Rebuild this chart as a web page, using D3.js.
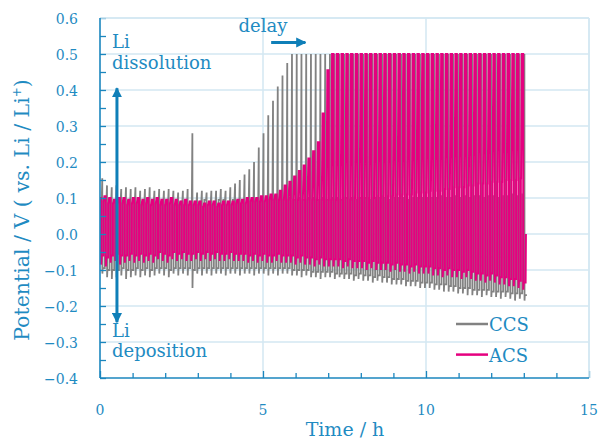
<!DOCTYPE html>
<html>
<head>
<meta charset="utf-8">
<script src="https://cdn.jsdelivr.net/npm/d3@7"></script>
<style>
  html, body { margin: 0; padding: 0; background: #fff; }
  svg { display: block; }
  text { font-family: "DejaVu Serif", serif; fill: #1f8bc2; }
</style>
</head>
<body>
<svg id="chart" width="601" height="442"></svg>
<script>
// Galvanostatic Li deposition / dissolution cycling, one entry per cycle.
const cycleHours = 0.1455;
const acsStartHours = -0.04;

// CCS per cycle, V: dissolution plateau, dissolution peak, deposition peak, deposition plateau
const ccsPlateauUp = [
  0.09, 0.095, 0.09, 0.09, 0.095, 0.09, 0.09, 0.095, 0.09, 0.09,
  0.09, 0.095, 0.09, 0.09, 0.09, 0.095, 0.09, 0.09, 0.09, 0.09,
  0.09, 0.09, 0.095, 0.09, 0.09, 0.095, 0.095, 0.09, 0.095, 0.09,
  0.095, 0.095, 0.09, 0.095, 0.095, 0.1, 0.095, 0.1, 0.1, 0.1,
  0.1, 0.095, 0.1, 0.095, 0.1, 0.1, 0.095, 0.1, 0.095, 0.1,
  0.1, 0.095, 0.1, 0.1, 0.095, 0.1, 0.1, 0.095, 0.1, 0.1,
  0.1, 0.095, 0.1, 0.1, 0.1, 0.095, 0.1, 0.1, 0.1, 0.1,
  0.1, 0.1, 0.105, 0.1, 0.1, 0.105, 0.1, 0.105, 0.1, 0.105,
  0.105, 0.1, 0.105, 0.105, 0.1, 0.105, 0.105, 0.11, 0.105, 0.11
];
const ccsUpper = [
  0.155, 0.135, 0.13, 0.135, 0.125, 0.13, 0.125, 0.13, 0.12, 0.125,
  0.13, 0.12, 0.125, 0.12, 0.125, 0.12, 0.115, 0.12, 0.125, 0.28,
  0.115, 0.12, 0.115, 0.12, 0.12, 0.125, 0.12, 0.13, 0.14, 0.15,
  0.165, 0.18, 0.2, 0.24, 0.28, 0.33, 0.37, 0.41, 0.44, 0.475,
  0.5, 0.5, 0.5, 0.5, 0.5, 0.5, 0.5, 0.5, 0.5, 0.5,
  0.5, 0.5, 0.5, 0.5, 0.5, 0.5, 0.5, 0.5, 0.5, 0.5,
  0.5, 0.5, 0.5, 0.5, 0.5, 0.5, 0.5, 0.5, 0.5, 0.5,
  0.5, 0.5, 0.5, 0.5, 0.5, 0.5, 0.5, 0.5, 0.5, 0.5,
  0.5, 0.5, 0.5, 0.5, 0.5, 0.5, 0.5, 0.5, 0.5, 0.5
];
const ccsLower = [
  -0.11, -0.12, -0.125, -0.12, -0.115, -0.125, -0.12, -0.115, -0.12, -0.115,
  -0.12, -0.115, -0.11, -0.115, -0.12, -0.11, -0.115, -0.11, -0.115, -0.15,
  -0.11, -0.115, -0.11, -0.115, -0.11, -0.11, -0.115, -0.11, -0.11, -0.115,
  -0.11, -0.11, -0.115, -0.11, -0.11, -0.115, -0.11, -0.115, -0.11, -0.11,
  -0.115, -0.115, -0.12, -0.115, -0.12, -0.12, -0.125, -0.12, -0.12, -0.125,
  -0.12, -0.125, -0.125, -0.13, -0.125, -0.13, -0.13, -0.135, -0.13, -0.135,
  -0.135, -0.14, -0.14, -0.14, -0.145, -0.145, -0.145, -0.15, -0.15, -0.15,
  -0.155, -0.155, -0.16, -0.16, -0.16, -0.165, -0.165, -0.17, -0.17, -0.17,
  -0.175, -0.17, -0.175, -0.175, -0.18, -0.175, -0.18, -0.185, -0.18, -0.185
];
const ccsPlateauDown = [
  -0.095, -0.1, -0.1, -0.1, -0.095, -0.1, -0.1, -0.095, -0.1, -0.095,
  -0.1, -0.095, -0.095, -0.095, -0.1, -0.095, -0.095, -0.095, -0.095, -0.1,
  -0.095, -0.095, -0.095, -0.095, -0.095, -0.095, -0.095, -0.095, -0.095, -0.095,
  -0.095, -0.095, -0.095, -0.095, -0.095, -0.095, -0.095, -0.095, -0.095, -0.095,
  -0.1, -0.1, -0.1, -0.1, -0.105, -0.105, -0.105, -0.105, -0.105, -0.11,
  -0.11, -0.11, -0.11, -0.115, -0.11, -0.115, -0.115, -0.12, -0.115, -0.12,
  -0.12, -0.125, -0.125, -0.125, -0.13, -0.13, -0.13, -0.135, -0.135, -0.135,
  -0.14, -0.14, -0.14, -0.145, -0.145, -0.15, -0.15, -0.15, -0.155, -0.155,
  -0.155, -0.155, -0.16, -0.16, -0.16, -0.16, -0.165, -0.165, -0.165, -0.17
];

// ACS per cycle, V: dissolution plateau, dissolution peak, deposition peak, deposition plateau
const acsPlateauUp = [
  0.085, 0.09, 0.085, 0.085, 0.085, 0.085, 0.08, 0.085, 0.085, 0.08,
  0.085, 0.08, 0.085, 0.08, 0.08, 0.085, 0.08, 0.08, 0.08, 0.08,
  0.08, 0.08, 0.075, 0.08, 0.08, 0.075, 0.08, 0.08, 0.08, 0.085,
  0.085, 0.085, 0.09, 0.09, 0.09, 0.09, 0.095, 0.095, 0.095, 0.095,
  0.095, 0.095, 0.095, 0.095, 0.095, 0.095, 0.095, 0.095, 0.095, 0.095,
  0.095, 0.095, 0.1, 0.095, 0.1, 0.1, 0.1, 0.1, 0.1, 0.105,
  0.105, 0.105, 0.105, 0.11, 0.11, 0.11, 0.11, 0.115, 0.115, 0.115,
  0.12, 0.12, 0.12, 0.125, 0.125, 0.13, 0.13, 0.13, 0.135, 0.135,
  0.14, 0.14, 0.14, 0.145, 0.145, 0.145, 0.15, 0.15, 0.15, 0.155
];
const acsUpper = [
  0.1, 0.105, 0.1, 0.095, 0.1, 0.1, 0.095, 0.1, 0.1, 0.095,
  0.1, 0.095, 0.1, 0.095, 0.095, 0.1, 0.095, 0.09, 0.095, 0.09,
  0.09, 0.09, 0.085, 0.09, 0.09, 0.085, 0.09, 0.09, 0.09, 0.095,
  0.095, 0.1, 0.1, 0.1, 0.105, 0.105, 0.11, 0.11, 0.12, 0.135,
  0.145, 0.16, 0.175, 0.19, 0.21, 0.23, 0.255, 0.335, 0.455, 0.5,
  0.5, 0.5, 0.5, 0.5, 0.5, 0.5, 0.5, 0.5, 0.5, 0.5,
  0.5, 0.5, 0.5, 0.5, 0.5, 0.5, 0.5, 0.5, 0.5, 0.5,
  0.5, 0.5, 0.5, 0.5, 0.5, 0.5, 0.5, 0.5, 0.5, 0.5,
  0.5, 0.5, 0.5, 0.5, 0.5, 0.5, 0.5, 0.5, 0.5, 0.5
];
const acsLower = [
  -0.085, -0.09, -0.08, -0.075, -0.085, -0.08, -0.075, -0.08, -0.075, -0.08,
  -0.075, -0.08, -0.07, -0.075, -0.08, -0.07, -0.075, -0.07, -0.075, -0.075,
  -0.07, -0.075, -0.07, -0.075, -0.07, -0.075, -0.075, -0.07, -0.075, -0.075,
  -0.075, -0.08, -0.075, -0.08, -0.075, -0.08, -0.08, -0.075, -0.08, -0.08,
  -0.08, -0.085, -0.08, -0.085, -0.085, -0.09, -0.085, -0.09, -0.09, -0.09,
  -0.09, -0.095, -0.09, -0.095, -0.095, -0.095, -0.1, -0.095, -0.1, -0.1,
  -0.1, -0.105, -0.1, -0.105, -0.105, -0.11, -0.105, -0.11, -0.11, -0.11,
  -0.115, -0.115, -0.12, -0.115, -0.12, -0.12, -0.125, -0.12, -0.125, -0.13,
  -0.13, -0.135, -0.13, -0.135, -0.14, -0.14, -0.145, -0.145, -0.15, -0.155
];
const acsPlateauDown = [
  -0.06, -0.065, -0.06, -0.055, -0.06, -0.06, -0.055, -0.06, -0.055, -0.06,
  -0.055, -0.06, -0.05, -0.055, -0.06, -0.05, -0.055, -0.05, -0.055, -0.055,
  -0.05, -0.055, -0.05, -0.055, -0.05, -0.055, -0.055, -0.05, -0.055, -0.055,
  -0.055, -0.06, -0.055, -0.06, -0.055, -0.06, -0.06, -0.055, -0.06, -0.06,
  -0.06, -0.065, -0.06, -0.065, -0.065, -0.07, -0.065, -0.07, -0.07, -0.07,
  -0.07, -0.075, -0.07, -0.075, -0.075, -0.075, -0.08, -0.075, -0.08, -0.08,
  -0.08, -0.085, -0.08, -0.085, -0.085, -0.09, -0.085, -0.09, -0.09, -0.09,
  -0.095, -0.095, -0.1, -0.095, -0.1, -0.1, -0.105, -0.1, -0.105, -0.11,
  -0.11, -0.115, -0.11, -0.115, -0.12, -0.12, -0.125, -0.125, -0.13, -0.135
];
// potential once the ACS current is switched off
const acsRest = 0.0;

const seriesNames = ["CCS", "ACS"];
const seriesColors = ["#828282", "#e5007f"];

const xTicks = [0, 5, 10, 15];
const yTicks = [-0.4, -0.3, -0.2, -0.1, 0.0, 0.1, 0.2, 0.3, 0.4, 0.5, 0.6];

const W = 601, H = 442;
const margin = { top: 18, right: 12, bottom: 64, left: 100 };

const axisBlue = "#1b86be";
const gridBlue = "#d3e7f2";
const arrowBlue = "#0f7fb8";

const svg = d3.select("#chart");

const x = d3.scaleLinear().domain([0, 15]).range([margin.left, W - margin.right]);
const y = d3.scaleLinear().domain([-0.4, 0.6]).range([H - margin.bottom, margin.top]);

const defs = svg.append("defs");
defs.append("clipPath").attr("id", "plot")
  .append("rect")
  .attr("x", x(0)).attr("y", y(0.6))
  .attr("width", x(15) - x(0)).attr("height", y(-0.4) - y(0.6));

// grid
const grid = svg.append("g");
grid.selectAll("line.h")
  .data(yTicks.filter(v => v > -0.35))
  .join("line")
  .attr("x1", x(0)).attr("x2", x(15))
  .attr("y1", d => y(d)).attr("y2", d => y(d))
  .attr("stroke", gridBlue).attr("stroke-width", 1.5);
grid.selectAll("line.v")
  .data(xTicks.filter(v => v > 0))
  .join("line")
  .attr("x1", d => x(d)).attr("x2", d => x(d))
  .attr("y1", y(-0.4)).attr("y2", y(0.6))
  .attr("stroke", gridBlue).attr("stroke-width", 1.5);

// Waveform of one cycle: [fraction of cycle, level]. Dissolution first, then deposition.
const ccsProfile = [[0, "platUp"], [0.36, "platUp"], [0.475, "peakUp"], [0.5, "peakDown"], [0.56, "platDown"], [1, "platDown"]];
const acsProfile = [[0, "platUp"], [0.04, "platUp"], [0.2, "peakUp"], [0.5, "peakUp"], [0.51, "peakDown"], [0.6, "platDown"], [1, "platDown"]];

function tracePoints(levels, profile, start, rest) {
  const pts = [];
  const n = levels.peakUp.length;
  for (let k = 0; k < n; k++) {
    profile.forEach(([f, key]) => {
      pts.push([start + (k + f) * cycleHours, levels[key][k]]);
    });
  }
  if (rest !== undefined) pts.push([start + n * cycleHours + 0.01, rest]);
  return pts;
}

const line = d3.line().x(d => x(d[0])).y(d => y(d[1]));
const traces = svg.append("g").attr("clip-path", "url(#plot)");

traces.append("path")
  .datum(tracePoints(
    { platUp: ccsPlateauUp, peakUp: ccsUpper, peakDown: ccsLower, platDown: ccsPlateauDown },
    ccsProfile, 0))
  .attr("d", line)
  .attr("fill", "none")
  .attr("stroke", seriesColors[0])
  .attr("stroke-width", 1.8);

traces.append("path")
  .datum(tracePoints(
    { platUp: acsPlateauUp, peakUp: acsUpper, peakDown: acsLower, platDown: acsPlateauDown },
    acsProfile, acsStartHours, acsRest))
  .attr("d", line)
  .attr("fill", "none")
  .attr("stroke", seriesColors[1])
  .attr("stroke-width", 2.0);

// axes
const yAxis = d3.axisLeft(y)
  .tickValues(d3.range(-0.4, 0.6001, 0.05))
  .tickSize(-6)
  .tickFormat(() => "");
const gy = svg.append("g").attr("transform", `translate(${x(0)},0)`).call(yAxis);
gy.select(".domain").remove();
gy.selectAll(".tick line").attr("stroke", axisBlue).attr("stroke-width", 1.3);

const xAxis = d3.axisBottom(x)
  .tickValues(d3.range(0, 15.001, 1))
  .tickSize(-5)
  .tickFormat(() => "");
const gx = svg.append("g").attr("transform", `translate(0,${y(-0.4)})`).call(xAxis);
gx.select(".domain").remove();
gx.selectAll(".tick line")
  .attr("stroke", axisBlue).attr("stroke-width", 1.3)
  .attr("y2", d => (d % 5 === 0 ? -7 : -5));

// frame: top and right in light blue, left and bottom as axis lines
svg.append("line")
  .attr("x1", x(0)).attr("x2", x(15)).attr("y1", y(0.6)).attr("y2", y(0.6))
  .attr("stroke", gridBlue).attr("stroke-width", 1.5);
svg.append("line")
  .attr("x1", x(15)).attr("x2", x(15)).attr("y1", y(0.6)).attr("y2", y(-0.4))
  .attr("stroke", gridBlue).attr("stroke-width", 1.5);
svg.append("line")
  .attr("x1", x(0)).attr("x2", x(0)).attr("y1", y(0.6)).attr("y2", y(-0.4))
  .attr("stroke", axisBlue).attr("stroke-width", 1.6);
svg.append("line")
  .attr("x1", x(0)).attr("x2", x(15)).attr("y1", y(-0.4)).attr("y2", y(-0.4))
  .attr("stroke", axisBlue).attr("stroke-width", 1.6);

// tick labels
const fmtY = v => {
  const s = Math.abs(v).toFixed(1);
  return (v < -1e-9 ? "\u2212" : "") + s;
};
svg.append("g").selectAll("text")
  .data(yTicks)
  .join("text")
  .attr("x", x(0) - 22)
  .attr("y", d => y(d) + 6)
  .attr("text-anchor", "end")
  .attr("font-size", 14)
  .text(fmtY);

svg.append("g").selectAll("text")
  .data(xTicks)
  .join("text")
  .attr("x", d => x(d))
  .attr("y", 415)
  .attr("text-anchor", "middle")
  .attr("font-size", 14)
  .text(d => d);

// axis titles
svg.append("text")
  .attr("x", 345).attr("y", 436)
  .attr("text-anchor", "middle")
  .attr("font-size", 19)
  .text("Time  / h");

const yt = svg.append("text")
  .attr("transform", `translate(29,${(y(0.6) + y(-0.4)) / 2 + 12}) rotate(-90)`)
  .attr("text-anchor", "middle")
  .attr("font-size", 20.5);
yt.append("tspan").text("Potential / V ( vs. Li / Li");
yt.append("tspan").attr("font-size", 12).attr("dy", -8).text("+");
yt.append("tspan").attr("dy", 8).text(")");

// annotations
defs.append("marker")
  .attr("id", "head")
  .attr("viewBox", "0 0 10 10")
  .attr("refX", 9).attr("refY", 5)
  .attr("markerWidth", 3.4).attr("markerHeight", 3.4)
  .attr("orient", "auto-start-reverse")
  .attr("markerUnits", "strokeWidth")
  .append("path")
  .attr("d", "M0,0 L10,5 L0,10 Z")
  .attr("fill", arrowBlue);

svg.append("line")
  .attr("x1", x(0.52)).attr("x2", x(0.52))
  .attr("y1", y(0.405)).attr("y2", y(-0.245))
  .attr("stroke", arrowBlue).attr("stroke-width", 3)
  .attr("marker-start", "url(#head)")
  .attr("marker-end", "url(#head)");

svg.append("line")
  .attr("x1", x(5.25)).attr("x2", x(6.3))
  .attr("y1", y(0.532)).attr("y2", y(0.532))
  .attr("stroke", arrowBlue).attr("stroke-width", 3)
  .attr("marker-end", "url(#head)");

const notes = [
  { t: 0.37, v: 0.518, text: "Li" },
  { t: 0.37, v: 0.457, text: "dissolution" },
  { t: 0.37, v: -0.286, text: "Li" },
  { t: 0.37, v: -0.342, text: "deposition" },
  { t: 4.25, v: 0.56, text: "delay" }
];
svg.append("g").selectAll("text")
  .data(notes)
  .join("text")
  .attr("x", d => x(d.t))
  .attr("y", d => y(d.v))
  .attr("font-size", 18)
  .text(d => d.text);

// legend
const legendRows = [
  { name: seriesNames[0], color: seriesColors[0], v: -0.25 },
  { name: seriesNames[1], color: seriesColors[1], v: -0.335 }
];
const lg = svg.append("g");
lg.selectAll("line")
  .data(legendRows)
  .join("line")
  .attr("x1", 456).attr("x2", 488)
  .attr("y1", d => y(d.v)).attr("y2", d => y(d.v))
  .attr("stroke", d => d.color).attr("stroke-width", 2.5);
lg.selectAll("text")
  .data(legendRows)
  .join("text")
  .attr("x", 489)
  .attr("y", d => y(d.v) + 7)
  .attr("font-size", 18)
  .text(d => d.name);
</script>
</body>
</html>
